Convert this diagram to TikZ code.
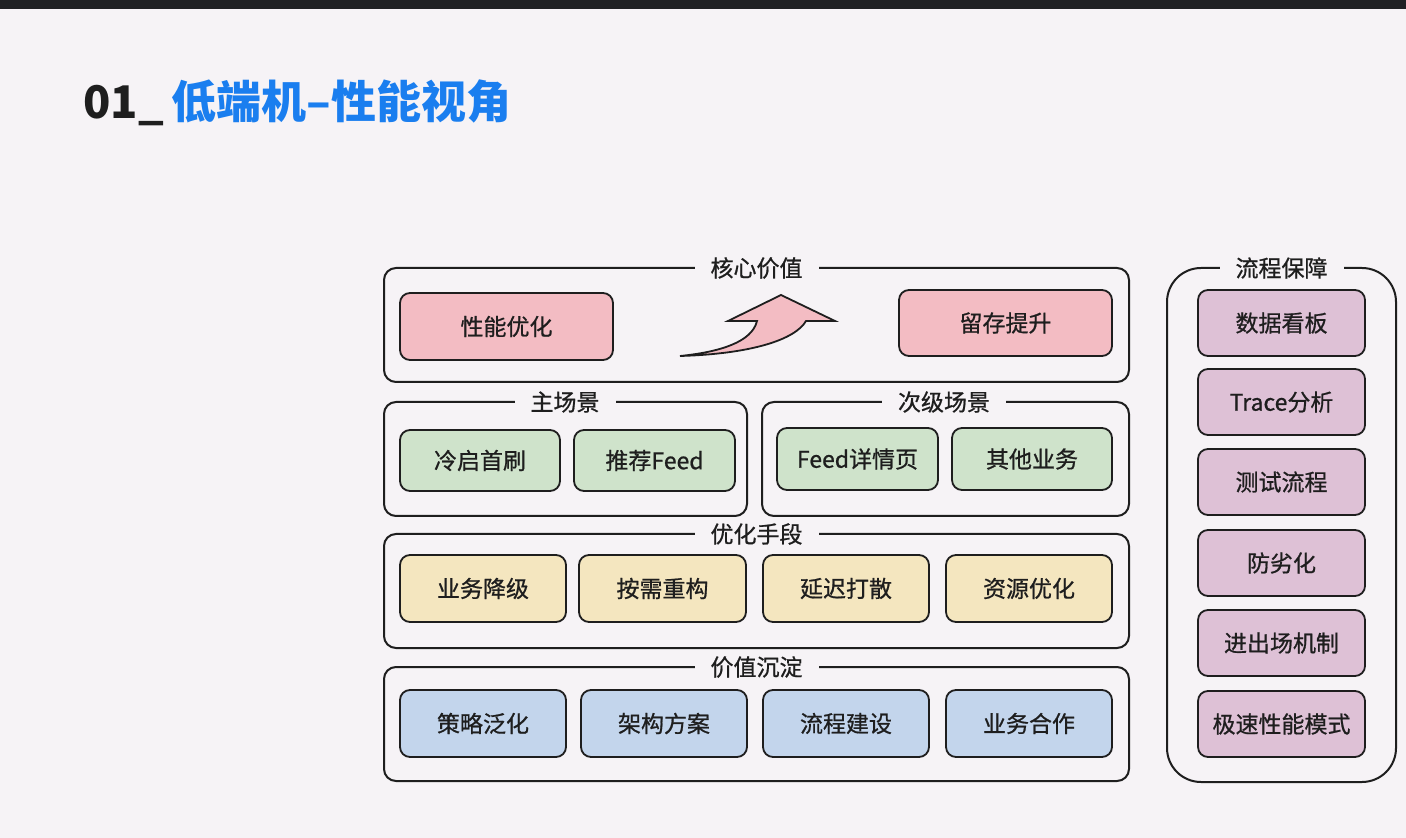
\documentclass[tikz,border=0pt]{standalone}
\usepackage{fontspec}
\setmainfont{Noto Sans CJK SC}
\newfontfamily\medfont{Noto Sans CJK SC}[FakeBold=0.8]
\definecolor{bg}{HTML}{F6F3F6}
\definecolor{topbar}{HTML}{202124}
\definecolor{ink}{HTML}{1E1E1E}
\definecolor{titleblue}{HTML}{1A7EEF}
\definecolor{cpink}{HTML}{F3BCC3}
\definecolor{cgreen}{HTML}{CFE3CB}
\definecolor{cyellow}{HTML}{F4E6BF}
\definecolor{cblue}{HTML}{C3D5EC}
\definecolor{cpurple}{HTML}{DEC1D6}
\tikzset{
  outerbox/.style={draw=ink, line width=1pt, rounded corners=6pt, inner sep=0pt},
  innerbox/.style={draw=ink, line width=0.9pt, rounded corners=5pt, inner sep=0pt,
    text=ink, font=\medfont\fontsize{11.5}{13}\selectfont},
  seclabel/.style={fill=bg, inner xsep=8pt, inner ysep=1pt, text=ink,
    font=\medfont\fontsize{11.5}{13}\selectfont},
}
\newcommand\obox[6][]{\node[outerbox, #1, minimum width={(#4-#2)*0.5pt}, minimum height={(#6-#3)*0.5pt}] (#5) at ({(#2+#4)/2},{(#3+#6)/2}) {};}
\newcommand\ibox[7]{\node[innerbox, fill=#6, minimum width={(#4-#2)*0.5pt}, minimum height={(#5-#3)*0.5pt}] (#1) at ({(#2+#4)/2},{(#3+#5)/2}) {#7};}
\begin{document}
\begin{tikzpicture}[x=0.5pt,y=-0.5pt]
% canvas
\fill[bg] (0,0) rectangle (1406,838);
\useasboundingbox (0,0) rectangle (1406,838);
\fill[topbar] (0,0) rectangle (1406,9);

% title
\node[anchor=base west, inner sep=0pt, text=ink, font=\fontsize{22.5}{26}\selectfont\bfseries] (title) at (83,119)
  {01\_\,{\color{titleblue}低端机–性能视角}};

% outer groups
\obox{384}{268}{1129}{core}{382}
\obox{384}{402}{747}{mainsc}{516}
\obox{762}{402}{1129}{subsc}{516}
\obox{384}{534}{1129}{opt}{648}
\obox{384}{667}{1129}{val}{781}
\obox[rounded corners=17pt]{1167}{268}{1396}{proc}{782}

% group labels
\node[seclabel] (core-l) at (756.5,268) {核心价值};
\node[seclabel] (mainsc-l) at (565,402) {主场景};
\node[seclabel] (subsc-l) at (944,402) {次级场景};
\node[seclabel] (opt-l) at (756.5,534) {优化手段};
\node[seclabel] (val-l) at (756.5,667) {价值沉淀};
\node[seclabel] (proc-l) at (1281.5,268) {流程保障};

% core value
\ibox{perf}{400}{293}{613}{360}{cpink}{性能优化}
\ibox{reten}{899}{290}{1112}{356}{cpink}{留存提升}
\draw[ink, line width=0.9pt, fill=cpink, line join=miter]
  (680,356) .. controls (750,354) and (795,340) .. (806,321)
  -- (835,321) -- (781,295) -- (728,321) -- (757,321)
  .. controls (752,342) and (720,352) .. cycle;

% main scenes
\ibox{cold}{400}{430}{560}{491}{cgreen}{冷启首刷}
\ibox{feed}{574}{430}{735}{491}{cgreen}{推荐Feed}
% secondary scenes
\ibox{detail}{777}{428}{938}{490}{cgreen}{Feed详情页}
\ibox{other}{952}{428}{1112}{490}{cgreen}{其他业务}

% optimisation
\ibox{degr}{400}{555}{566}{622}{cyellow}{业务降级}
\ibox{refac}{579}{555}{746}{622}{cyellow}{按需重构}
\ibox{delay}{763}{555}{929}{622}{cyellow}{延迟打散}
\ibox{res}{946}{555}{1112}{622}{cyellow}{资源优化}

% value
\ibox{strat}{400}{690}{566}{757}{cblue}{策略泛化}
\ibox{arch}{581}{690}{747}{757}{cblue}{架构方案}
\ibox{flow}{763}{690}{929}{757}{cblue}{流程建设}
\ibox{biz}{946}{690}{1112}{757}{cblue}{业务合作}

% process
\ibox{dash}{1198}{290}{1365}{356}{cpurple}{数据看板}
\ibox{trace}{1198}{369}{1365}{435}{cpurple}{Trace分析}
\ibox{test}{1198}{449}{1365}{515}{cpurple}{测试流程}
\ibox{antideg}{1198}{530}{1365}{596}{cpurple}{防劣化}
\ibox{inout}{1198}{610}{1365}{676}{cpurple}{进出场机制}
\ibox{fast}{1198}{691}{1365}{757}{cpurple}{极速性能模式}
\end{tikzpicture}
\end{document}
